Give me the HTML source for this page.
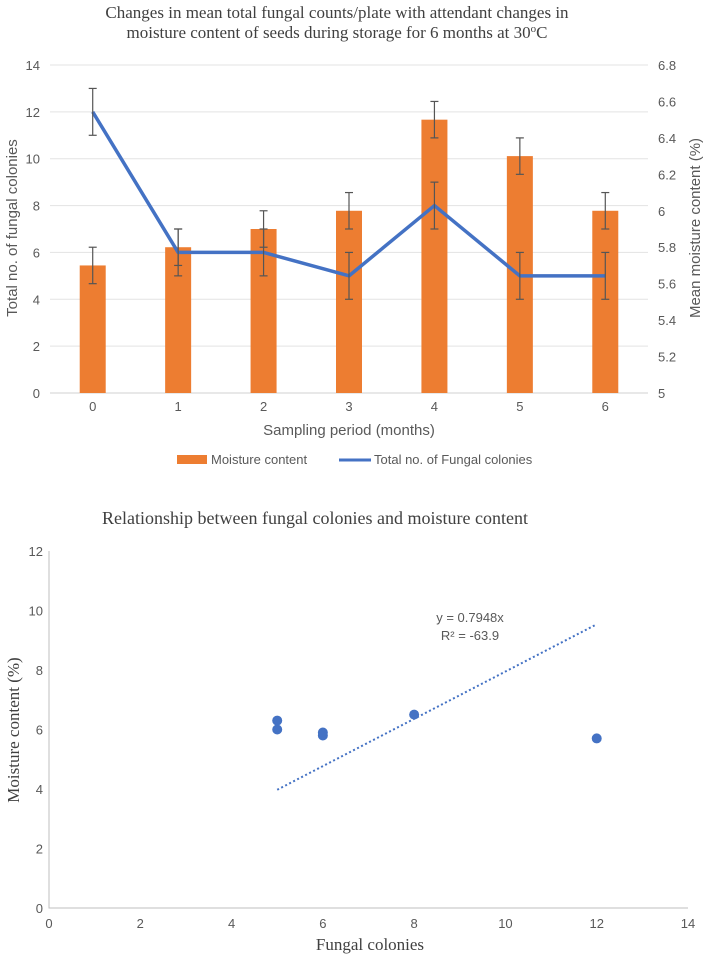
<!DOCTYPE html>
<html><head><meta charset="utf-8"><style>
body{margin:0;background:#fff;}
svg{display:block;}
</style></head><body>
<svg id="svg" width="709" height="956" xmlns="http://www.w3.org/2000/svg">
<g font-family="Liberation Serif, serif" fill="#404040" font-size="17" text-anchor="middle">
<text x="337" y="18">Changes in mean total fungal counts/plate with attendant changes in</text>
<text x="337" y="38">moisture content of seeds during storage for 6 months at 30<tspan font-size="11" dy="-6">o</tspan><tspan dy="6">C</tspan></text>
<text x="315" y="524" font-size="18">Relationship between fungal colonies and moisture content</text>
<text x="370" y="950" font-size="17">Fungal colonies</text>
<text transform="translate(19,730) rotate(-90)" font-size="17">Moisture content (%)</text>
</g>
<g font-family="Liberation Sans, sans-serif" fill="#595959" font-size="13" text-anchor="middle">
<text x="349" y="435" font-size="15">Sampling period (months)</text>
<text transform="translate(17,228) rotate(-90)" font-size="15">Total no. of fungal colonies</text>
<text transform="translate(700,228) rotate(-90)" font-size="15">Mean moisture content (%)</text>
</g>
<g id="topchart"></g>
<g id="legend">
<rect x="177" y="455" width="30" height="9" fill="#ED7D31"/>
<text x="211" y="464" font-family="Liberation Sans, sans-serif" font-size="13" fill="#595959">Moisture content</text>
<line x1="339" y1="460" x2="371" y2="460" stroke="#4472C4" stroke-width="3"/>
<text x="374" y="464" font-family="Liberation Sans, sans-serif" font-size="13" fill="#595959">Total no. of Fungal colonies</text>
</g>
<g id="scatter"></g>
</svg>
<script>
const categories=["0","1","2","3","4","5","6"];
const moisture=[5.7,5.8,5.9,6.0,6.5,6.3,6.0];
const moistureErr=[0.1,0.1,0.1,0.1,0.1,0.1,0.1];
const fungal=[12,6,6,5,8,5,5];
const fungalErr=[1,1,1,1,1,1,1];
const leftTicks=[0,2,4,6,8,10,12,14];
const rightTicks=["5","5.2","5.4","5.6","5.8","6","6.2","6.4","6.6","6.8"];
const scatterX=[5,5,6,6,8,12];
const scatterY=[6.3,6.0,5.9,5.8,6.5,5.7];
const trendSlope=0.7948;
const trendRange=[5,12];
const scXTicks=[0,2,4,6,8,10,12,14];
const scYTicks=[0,2,4,6,8,10,12];

const NS="http://www.w3.org/2000/svg";
function mk(p,tag,a){const e=document.createElementNS(NS,tag);for(const k in a)e.setAttribute(k,a[k]);p.appendChild(e);return e;}
const topG=document.getElementById('topchart');
const X0=50,X1=648,Y0=393,Y1=65;
const band=(X1-X0)/categories.length;
const xc=i=>X0+band*(i+0.5);
const yL=v=>Y0-(v/14)*(Y0-Y1);
const yR=v=>Y0-((v-5)/1.8)*(Y0-Y1);
leftTicks.forEach(t=>{
  const l=mk(topG,'line',{x1:X0,x2:X1,y1:yL(t),y2:yL(t),stroke:t===0?'#d0d0d0':'#e3e3e3','stroke-width':1});
  
  
  const tx=mk(topG,'text',{x:40,y:yL(t)+5,'text-anchor':'end','font-family':'Liberation Sans, sans-serif','font-size':13,fill:'#595959'});
  tx.textContent=t;
  
  
});
rightTicks.forEach(t=>{
  const tx=mk(topG,'text',{x:658,y:yR(parseFloat(t))+5,'font-family':'Liberation Sans, sans-serif','font-size':13,fill:'#595959'});
  tx.textContent=t;
  
  
});
categories.forEach((c,i)=>{
  const tx=mk(topG,'text',{x:xc(i),y:411,'text-anchor':'middle','font-family':'Liberation Sans, sans-serif','font-size':13,fill:'#595959'});
  tx.textContent=c;
  
  
});
function errBar(x,yt,yb){
  const g=mk(topG,'g',{stroke:'#555','stroke-width':1.2});
  
  
  mk(g,'line',{x1:x,x2:x,y1:yt,y2:yb});
  mk(g,'line',{x1:x-4,x2:x+4,y1:yt,y2:yt});
  mk(g,'line',{x1:x-4,x2:x+4,y1:yb,y2:yb});
}
moisture.forEach((v,i)=>{
  const r=mk(topG,'rect',{x:xc(i)-13,y:yR(v),width:26,height:Y0-yR(v),fill:'#ED7D31'});
  
  
  errBar(xc(i),yR(v+moistureErr[i]),yR(v-moistureErr[i]));
});
const pl=mk(topG,'polyline',{points:fungal.map((v,i)=>xc(i)+','+yL(v)).join(' '),fill:'none',stroke:'#4472C4','stroke-width':3.5,'stroke-linejoin':'round'});


fungal.forEach((v,i)=>errBar(xc(i),yL(v+fungalErr[i]),yL(v-fungalErr[i])));

const sc=document.getElementById('scatter');
const SX0=49,SX1=688,SY0=908,SY1=551;
const sx=v=>SX0+v/14*(SX1-SX0);
const sy=v=>SY0-v/12*(SY0-SY1);
const ax=mk(sc,'path',{d:`M${SX0},${SY1} V${SY0} H${SX1}`,fill:'none',stroke:'#bfbfbf','stroke-width':1});


scXTicks.forEach(t=>{
  const tx=mk(sc,'text',{x:sx(t),y:928,'text-anchor':'middle','font-family':'Liberation Sans, sans-serif','font-size':13,fill:'#595959'});
  tx.textContent=t;
  
  
});
scYTicks.forEach(t=>{
  const tx=mk(sc,'text',{x:43,y:sy(t)+5,'text-anchor':'end','font-family':'Liberation Sans, sans-serif','font-size':13,fill:'#595959'});
  tx.textContent=t;
  
  
});
const tl=mk(sc,'line',{x1:sx(trendRange[0]),y1:sy(trendSlope*trendRange[0]),x2:sx(trendRange[1]),y2:sy(trendSlope*trendRange[1]),stroke:'#4472C4','stroke-width':2,'stroke-dasharray':'2,2.5'});


scatterX.forEach((v,i)=>{
  const c=mk(sc,'circle',{cx:sx(v),cy:sy(scatterY[i]),r:5,fill:'#4472C4'});
  
  
});
const eq=mk(sc,'text',{x:470,y:622,'text-anchor':'middle','font-family':'Liberation Sans, sans-serif','font-size':13,fill:'#595959'});
eq.textContent='y = 0.7948x';


const r2=mk(sc,'text',{x:470,y:640,'text-anchor':'middle','font-family':'Liberation Sans, sans-serif','font-size':13,fill:'#595959'});
r2.textContent='R² = -63.9';


</script>
</body></html>
